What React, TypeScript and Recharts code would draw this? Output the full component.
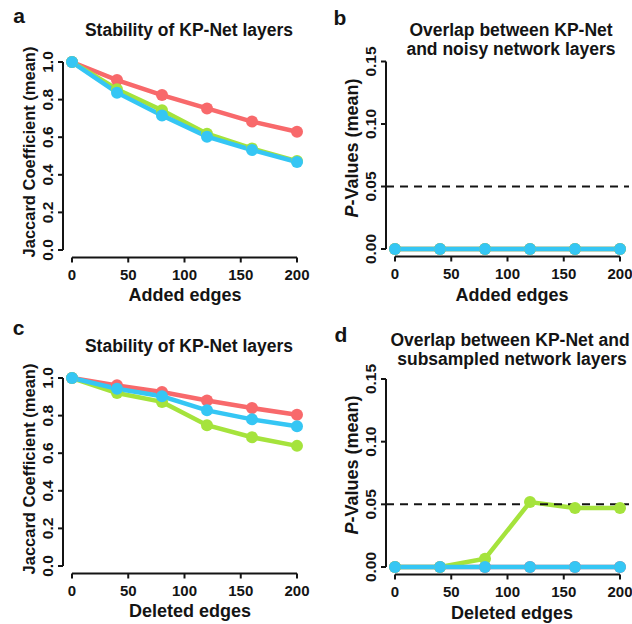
import React from "react";
import { LineChart, Line, XAxis, YAxis, ReferenceLine } from "recharts";

/* values */
const edges = [0, 40, 80, 120, 160, 200];
const edgeTicks = [0, 50, 100, 150, 200];
const jaccardTicks = [0, 0.2, 0.4, 0.6, 0.8, 1.0];
const pTicks = [0, 0.05, 0.1, 0.15];

const addedJaccardRed = [1.0, 0.904, 0.824, 0.753, 0.683, 0.629];
const addedJaccardGreen = [1.0, 0.855, 0.743, 0.619, 0.54, 0.473];
const addedJaccardBlue = [1.0, 0.837, 0.716, 0.603, 0.532, 0.468];

const addedPRed = [0, 0, 0, 0, 0, 0];
const addedPGreen = [0, 0, 0, 0, 0, 0];
const addedPBlue = [0, 0, 0, 0, 0, 0];

const deletedJaccardRed = [1.0, 0.961, 0.926, 0.88, 0.84, 0.805];
const deletedJaccardGreen = [1.0, 0.92, 0.873, 0.749, 0.685, 0.639];
const deletedJaccardBlue = [1.0, 0.943, 0.903, 0.828, 0.78, 0.743];

const deletedPRed = [0, 0, 0, 0, 0, 0];
const deletedPGreen = [0, 0, 0.0066, 0.0518, 0.047, 0.047];
const deletedPBlue = [0, 0, 0, 0, 0, 0];

const P_CUTOFF = 0.05;

const RED = "#F8696B";
const GREEN = "#A5E33C";
const BLUE = "#35C6F4";
const INK = "#141414";
const FONT = '"Liberation Sans", Arial, Helvetica, sans-serif';

const X_DOMAIN = [-8, 208];
const J_DOMAIN = [-0.04, 1.04];
const P_DOMAIN = [-0.006, 0.156];

const rowsOf = (red: number[], green: number[], blue: number[]) =>
  edges.map((x, i) => ({ x, red: red[i], green: green[i], blue: blue[i] }));

function YTick(props: any) {
  const { x, y, payload, digits } = props;
  return (
    <text
      x={x}
      y={y}
      transform={`rotate(-90 ${x} ${y})`}
      textAnchor="middle"
      fontSize={15.5}
      fontWeight={700}
      fontFamily={FONT}
      fill={INK}
    >
      {Number(payload.value).toFixed(digits)}
    </text>
  );
}

interface PanelProps {
  left: number;
  top: number;
  plot: { left: number; right: number; top: number; bottom: number };
  rows: any[];
  yDomain: number[];
  yTicks: number[];
  digits: number;
  cutoff?: number;
}

function Panel({ left, top, plot, rows, yDomain, yTicks, digits, cutoff }: PanelProps) {
  const W = 316;
  const H = 312;
  const margin = {
    top: plot.top,
    right: W - plot.right,
    bottom: H - plot.bottom - 30,
    left: plot.left - 60,
  };
  const series = [
    { key: "red", color: RED },
    { key: "green", color: GREEN },
    { key: "blue", color: BLUE },
  ];
  return (
    <div style={{ position: "absolute", left, top }}>
      <LineChart width={W} height={H} data={rows} margin={margin}>
        <XAxis
          type="number"
          dataKey="x"
          domain={X_DOMAIN}
          ticks={edgeTicks}
          height={30}
          axisLine={false}
          tickSize={5}
          tickMargin={7}
          tickLine={{ stroke: INK, strokeWidth: 2 }}
          tick={{ fontSize: 15, fontWeight: 700, fill: INK, fontFamily: FONT }}
          interval={0}
        />
        <YAxis
          type="number"
          domain={yDomain}
          ticks={yTicks}
          width={60}
          axisLine={false}
          tickSize={5}
          tickMargin={5}
          tickLine={{ stroke: INK, strokeWidth: 2 }}
          tick={(p: any) => <YTick {...p} digits={digits} />}
          interval={0}
        />
        <ReferenceLine
          segment={[
            { x: X_DOMAIN[0], y: yTicks[0] },
            { x: X_DOMAIN[0], y: yTicks[yTicks.length - 1] },
          ]}
          stroke={INK}
          strokeWidth={2}
          ifOverflow="visible"
        />
        <ReferenceLine
          segment={[
            { x: edgeTicks[0], y: yDomain[0] },
            { x: edgeTicks[edgeTicks.length - 1], y: yDomain[0] },
          ]}
          stroke={INK}
          strokeWidth={2}
          ifOverflow="visible"
        />
        {series.map((s) => (
          <Line
            key={s.key}
            type="linear"
            dataKey={s.key}
            stroke={s.color}
            strokeWidth={4.5}
            dot={{ r: 6, fill: s.color, stroke: "none" }}
            activeDot={false}
            isAnimationActive={false}
          />
        ))}
        {cutoff !== undefined && (
          <ReferenceLine
            y={cutoff}
            stroke={INK}
            strokeWidth={2}
            strokeDasharray="8 6"
          />
        )}
      </LineChart>
    </div>
  );
}

const txt = { fontFamily: FONT, fontWeight: 700, fill: INK } as const;

export default function App() {
  return (
    <div
      style={{
        position: "absolute",
        left: 0,
        top: 0,
        width: 632,
        height: 624,
        background: "#fff",
        overflow: "hidden",
      }}
    >
      <Panel
        left={0}
        top={0}
        plot={{ left: 63, right: 306, top: 54.5, bottom: 257.5 }}
        rows={rowsOf(addedJaccardRed, addedJaccardGreen, addedJaccardBlue)}
        yDomain={J_DOMAIN}
        yTicks={jaccardTicks}
        digits={1}
      />
      <Panel
        left={316}
        top={0}
        plot={{ left: 70, right: 313, top: 54, bottom: 256.5 }}
        rows={rowsOf(addedPRed, addedPGreen, addedPBlue)}
        yDomain={P_DOMAIN}
        yTicks={pTicks}
        digits={2}
        cutoff={P_CUTOFF}
      />
      <Panel
        left={0}
        top={312}
        plot={{ left: 63, right: 306, top: 58.5, bottom: 261.5 }}
        rows={rowsOf(deletedJaccardRed, deletedJaccardGreen, deletedJaccardBlue)}
        yDomain={J_DOMAIN}
        yTicks={jaccardTicks}
        digits={1}
      />
      <Panel
        left={316}
        top={312}
        plot={{ left: 70, right: 313, top: 59.5, bottom: 262.5 }}
        rows={rowsOf(deletedPRed, deletedPGreen, deletedPBlue)}
        yDomain={P_DOMAIN}
        yTicks={pTicks}
        digits={2}
        cutoff={P_CUTOFF}
      />
      <svg
        width={632}
        height={624}
        style={{ position: "absolute", left: 0, top: 0, pointerEvents: "none" }}
      >
        {/* panel letters */}
        <text {...txt} x={19} y={23} fontSize={21} textAnchor="middle">a</text>
        <text {...txt} x={340} y={25} fontSize={21} textAnchor="middle">b</text>
        <text {...txt} x={18.5} y={334.5} fontSize={21} textAnchor="middle">c</text>
        <text {...txt} x={341} y={342} fontSize={21} textAnchor="middle">d</text>

        {/* titles */}
        <text {...txt} x={189} y={36} fontSize={17.5} textAnchor="middle">
          Stability of KP-Net layers
        </text>
        <text {...txt} x={511} y={36} fontSize={17.5} textAnchor="middle">
          Overlap between KP-Net
        </text>
        <text {...txt} x={511} y={55} fontSize={17.5} textAnchor="middle">
          and noisy network layers
        </text>
        <text {...txt} x={189} y={352} fontSize={17.5} textAnchor="middle">
          Stability of KP-Net layers
        </text>
        <text {...txt} x={510} y={345.5} fontSize={17.5} textAnchor="middle">
          Overlap between KP-Net and
        </text>
        <text {...txt} x={512} y={364.5} fontSize={17.5} textAnchor="middle">
          subsampled network layers
        </text>

        {/* x axis titles */}
        <text {...txt} x={185} y={300.5} fontSize={18} textAnchor="middle">Added edges</text>
        <text {...txt} x={512} y={301} fontSize={18} textAnchor="middle">Added edges</text>
        <text {...txt} x={190} y={617} fontSize={18} textAnchor="middle">Deleted edges</text>
        <text {...txt} x={512} y={618.5} fontSize={18} textAnchor="middle">Deleted edges</text>

        {/* y axis titles */}
        <text {...txt} x={35} y={152} fontSize={16.5} textAnchor="middle" transform="rotate(-90 35 152)">
          Jaccard Coefficient (mean)
        </text>
        <text {...txt} x={35} y={469} fontSize={16.5} textAnchor="middle" transform="rotate(-90 35 469)">
          Jaccard Coefficient (mean)
        </text>
        <text {...txt} x={358} y={148} fontSize={18} textAnchor="middle" transform="rotate(-90 358 148)">
          <tspan fontStyle="italic">P</tspan>-Values (mean)
        </text>
        <text {...txt} x={358} y={465} fontSize={18} textAnchor="middle" transform="rotate(-90 358 465)">
          <tspan fontStyle="italic">P</tspan>-Values (mean)
        </text>
      </svg>
    </div>
  );
}
